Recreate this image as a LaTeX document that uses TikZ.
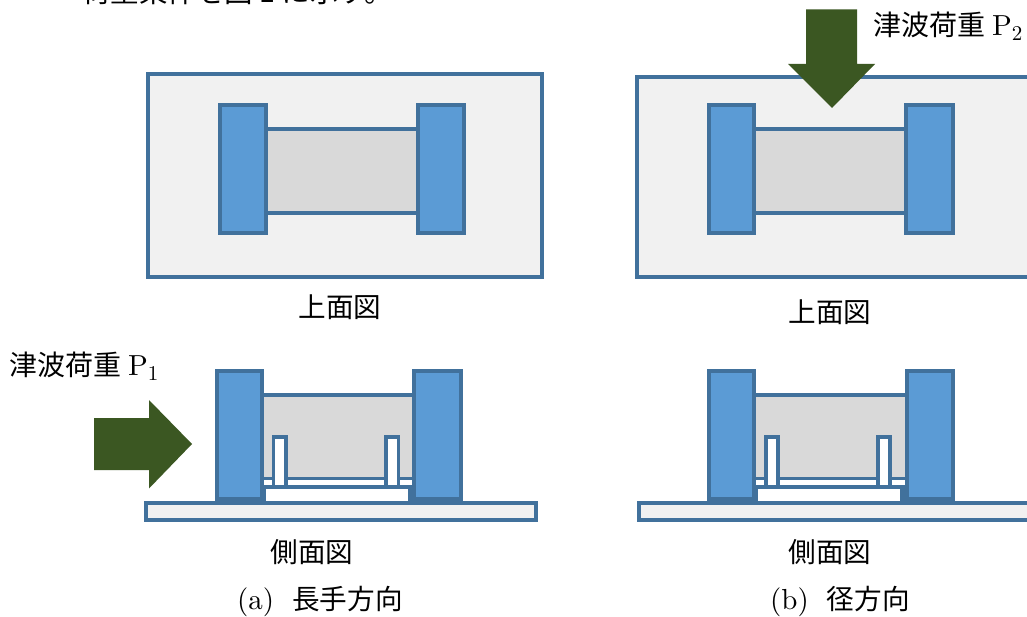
\documentclass[tikz,border=0pt]{standalone}
\usepackage{fontspec}
\newfontfamily\cjk{Noto Sans CJK JP}
\newfontfamily\lat{lmroman10-regular}[Extension=.otf]
\definecolor{edge}{HTML}{41719C}
\definecolor{blockfill}{HTML}{5B9BD5}
\definecolor{midgrey}{HTML}{D9D9D9}
\definecolor{lightgrey}{HTML}{F1F1F1}
\definecolor{arrowgreen}{HTML}{3B5722}
\newcommand{\loadname}[1]{{\lat\fontsize{29}{30}\selectfont P\raisebox{-5pt}{\fontsize{21}{22}\selectfont #1}}}
\newcommand{\capmark}[1]{{\lat\fontsize{29}{30}\selectfont (#1)}}
\tikzset{
  ground/.style={draw=edge,line width=4pt,fill=lightgrey},
  block/.style={draw=edge,line width=4pt,fill=blockfill},
  body/.style={draw=edge,line width=3.8pt,fill=midgrey},
  whitepart/.style={draw=edge,line width=3.8pt,fill=white},
  load/.style={fill=arrowgreen,draw=none},
  label/.style={inner sep=0pt,font=\fontsize{27.6}{30}\selectfont\cjk},
  loadlabel/.style={label,anchor=base west,font=\fontsize{28}{30}\selectfont\cjk},
}
\begin{document}
\begin{tikzpicture}[x=1pt,y=-1pt]
\useasboundingbox (0,0) rectangle (1027,617);
\fill[white] (0,0) rectangle (1027,617);
\clip (0,0) rectangle (1027,617);
% cropped running text
\node[label,anchor=base west,font=\fontsize{28.5}{30}\selectfont\cjk] (topline) at (82,3) {荷重条件を図 1 に示す。};
% (a) top view
\draw[ground] (148,74.5) rectangle (542,277);
\draw[body] (260,129) rectangle (424,213);
\draw[block] (219.5,105) rectangle (266,233);
\draw[block] (418,105) rectangle (464,233);
\node[label] (topa) at (340,307) {上面図};
% (b) top view
\draw[ground] (637,77.5) rectangle (1040,277);
\draw[body] (750,129) rectangle (912,213);
\draw[block] (709,105) rectangle (754,233);
\draw[block] (906,105) rectangle (953,233);
\node[label] (topb) at (830,312) {上面図};
\fill[load] (806,9.5) -- (857,9.5) -- (857,64) -- (875,64) -- (832,108) -- (788,64) -- (806,64) -- cycle;
\node[loadlabel] (p2) at (873,36) {津波荷重\hspace{7pt}\loadname{2}};
% (a) side view
\draw[body] (258,395) rectangle (418,500);
\draw[whitepart] (258,478.5) rectangle (418,487);
\draw[whitepart] (273.5,437) rectangle (286,487);
\draw[whitepart] (386,437) rectangle (398.5,487);
\fill[edge] (258,485) rectangle (418,503);
\draw[block] (216.5,371) rectangle (262,499);
\draw[block] (414,371) rectangle (460.5,499);
\fill[edge] (215,496.7) rectangle (264,503);
\fill[edge] (412,496.7) rectangle (462,503);
\draw[ground] (146,503) rectangle (536,520.2);
\fill[white] (266.3,489) rectangle (408,500.8);
\fill[load] (94,418) -- (149,418) -- (149,400) -- (192,444) -- (149,488.5) -- (149,470) -- (94,470) -- cycle;
\node[loadlabel] (p1) at (9,375) {津波荷重\hspace{7pt}\loadname{1}};
\node[label] (sidea) at (312,552) {側面図};
\node[label,anchor=base west] (capa) at (237,609) {\capmark{a}\hspace{18pt}長手方向};
% (b) side view
\draw[body] (750,395) rectangle (910,500);
\draw[whitepart] (750,478.5) rectangle (910,487);
\draw[whitepart] (765.8,437) rectangle (778,487);
\draw[whitepart] (878,437) rectangle (890,487);
\fill[edge] (750,485) rectangle (910,503);
\draw[block] (709,371) rectangle (754,499);
\draw[block] (907,371) rectangle (953,499);
\fill[edge] (707,496.7) rectangle (756,503);
\fill[edge] (905,496.7) rectangle (955,503);
\draw[ground] (639,503) rectangle (1040,520.2);
\fill[white] (758,489) rectangle (900,500.8);
\node[label] (sideb) at (830,552) {側面図};
\node[label,anchor=base west] (capb) at (770,609) {\capmark{b}\hspace{18pt}径方向};
\end{tikzpicture}
\end{document}
